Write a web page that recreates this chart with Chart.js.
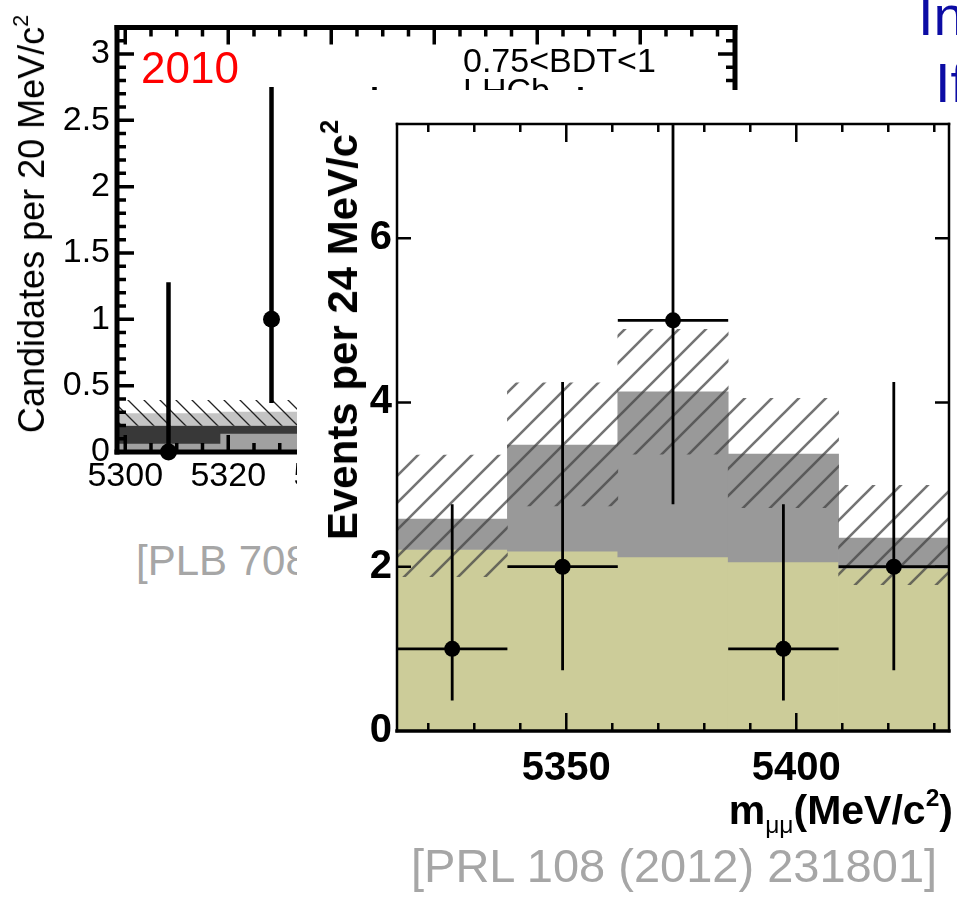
<!DOCTYPE html>
<html>
<head>
<meta charset="utf-8">
<script src="https://cdn.jsdelivr.net/npm/chart.js@4.4.0/dist/chart.umd.min.js"></script>
<style>
body { margin: 0; width: 957px; height: 898px; overflow: hidden; background: #fff; position: relative; font-family: "Liberation Sans", Arial, sans-serif; }
.t { position: absolute; white-space: nowrap; line-height: 1; }
.rot { transform: translate(-50%, -50%) rotate(-90deg); }
sup { font-size: 0.6em; vertical-align: 0.75em; line-height: 0; }
#backLayer { position: absolute; left: 0; top: 0; width: 760px; height: 620px; }
#frontLayer { position: absolute; left: 297px; top: 90px; width: 660px; height: 808px; background: #fff; overflow: hidden; }
canvas { position: absolute; left: 0; top: 0; }
.blue { color: #0c0ca4; font-size: 56px; z-index: 5; }
</style>
</head>
<body>

<div id="backLayer">
  <canvas id="backChart" width="760" height="500"></canvas>
  <div class="t rot" style="left:32px;top:224px;font-size:36px">Candidates per 20 MeV/c<sup>2</sup></div>
  <div class="t" style="left:141px;top:46px;font-size:44px;color:#ff0000">2010</div>
  <div class="t" style="left:463px;top:43px;font-size:34px">0.75&lt;BDT&lt;1</div>
  <div class="t" style="left:463px;top:73px;font-size:34px">LHCb</div>
  <div class="t" style="left:136px;top:540px;font-size:42px;color:#a6a6a6">[PLB 708 (2012) 55]</div>
</div>

<div id="frontLayer">
  <canvas id="frontChart" width="660" height="808"></canvas>
  <div class="t rot" style="left:46px;top:240px;font-size:42px;font-weight:bold">Events per 24 MeV/c<sup>2</sup></div>
  <div class="t" style="right:4px;top:700px;font-size:41px;font-weight:bold">m<span style="font-size:0.6em;font-weight:normal;vertical-align:-0.35em">&mu;&mu;</span>(MeV/c<sup>2</sup>)</div>
  <div class="t" style="left:114px;top:752px;font-size:47px;color:#a6a6a6">[PRL 108 (2012) 231801]</div>
</div>

<div class="t blue" style="left:918px;top:-12px">In</div>
<div class="t blue" style="left:935px;top:55px">If</div>

<script>
// ---- 2010 plot (behind) ----
const backCenters = [5308.4, 5328.4, 5348.4, 5368.4, 5388.4, 5408.4]
const backCounts = [0, 1, 1, 0, 1, 0]
const backErrLo = [0, 0.37, 0.37, 0, 0.37, 0]
const backErrHi = [1.28, 2.75, 2.75, 1.28, 2.75, 1.28]
const backMidTop = [0.065, 0.14, 0.14, 0.14, 0.14, 0.14]
const backDarkTop = [0.2, 0.2, 0.2, 0.2, 0.2, 0.2]
const backLightTop = [0.29, 0.3, 0.3, 0.3, 0.3, 0.3]
const backHatchLo = [0.2, 0.2, 0.2, 0.2, 0.2, 0.2]
const backHatchHi = [0.39, 0.39, 0.39, 0.39, 0.39, 0.39]
const backXTicks = [5300, 5320, 5340, 5360, 5380, 5400]
const backYTicks = [0, 0.5, 1, 1.5, 2, 2.5, 3]

// ---- 2011 plot (front) ----
const frontCenters = [5325.2, 5349.2, 5373.2, 5397.2, 5421.2]
const frontCounts = [1, 2, 5, 1, 2]
const frontErrLo = [0.37, 0.74, 2.76, 0.37, 0.74]
const frontErrHi = [2.76, 4.25, 7.6, 2.76, 4.25]
const frontBkgTop = [2.21, 2.19, 2.12, 2.06, 1.98]
const frontTotal = [2.58, 3.48, 4.13, 3.37, 2.35]
const frontBandLo = [1.88, 2.74, 3.37, 2.72, 1.78]
const frontBandHi = [3.36, 4.24, 4.89, 4.05, 2.99]
const frontXTicks = [5350, 5400]
const frontYTicks = [0, 2, 4, 6]

Chart.defaults.font.family = '"Liberation Sans", Arial, sans-serif'
Chart.defaults.color = '#000'

function hatch(size, color, width, dir) {
    let c = document.createElement('canvas')
    c.width = size
    c.height = size
    let g = c.getContext('2d')
    g.strokeStyle = color
    g.lineWidth = width
    g.beginPath()
    if (dir > 0) {
        g.moveTo(0, size); g.lineTo(size, 0)
        g.moveTo(-size / 2, size / 2); g.lineTo(size / 2, -size / 2)
        g.moveTo(size / 2, size * 1.5); g.lineTo(size * 1.5, size / 2)
    } else {
        g.moveTo(0, 0); g.lineTo(size, size)
        g.moveTo(-size / 2, size / 2); g.lineTo(size / 2, size * 1.5)
        g.moveTo(size / 2, -size / 2); g.lineTo(size * 1.5, size / 2)
    }
    g.stroke()
    return g.createPattern(c, 'repeat')
}

function band(xs, lo, hi) {
    return xs.map((x, i) => ({x: x, y: [lo ? lo[i] : 0, hi[i]]}))
}

function bars(data, color, order) {
    return {
        type: 'bar', data: data, backgroundColor: color, order: order,
        barPercentage: 1, categoryPercentage: 1, grouped: false, borderWidth: 0
    }
}

// vertical (and optional horizontal) error bars, drawn through the scales
const errorBars = {
    id: 'errorBars',
    afterDatasetsDraw(chart, args, o) {
        const {ctx, chartArea: a, scales: {x, y}} = chart
        ctx.save()
        if (o.clip) {
            ctx.beginPath()
            ctx.rect(a.left, a.top, a.right - a.left, a.bottom - a.top)
            ctx.clip()
        }
        ctx.strokeStyle = '#000'
        ctx.lineWidth = o.lineWidth
        ctx.beginPath()
        chart.data.datasets.forEach(ds => {
            if (!ds.errHi) return
            ds.data.forEach((p, i) => {
                let px = x.getPixelForValue(p.x)
                ctx.moveTo(px, y.getPixelForValue(ds.errLo[i]))
                ctx.lineTo(px, y.getPixelForValue(ds.errHi[i]))
                if (o.xHalf) {
                    let py = y.getPixelForValue(p.y)
                    ctx.moveTo(x.getPixelForValue(p.x - o.xHalf), py)
                    ctx.lineTo(x.getPixelForValue(p.x + o.xHalf), py)
                }
            })
        })
        ctx.stroke()
        ctx.restore()
    }
}

// ROOT style frame with ticks pointing inwards
const rootFrame = {
    id: 'rootFrame',
    afterDraw(chart, args, o) {
        const {ctx, chartArea: a, scales: {x, y}} = chart
        ctx.save()
        ctx.strokeStyle = '#000'
        ctx.lineWidth = o.tickWidth

        // x ticks, bottom and top
        ctx.beginPath()
        const xTick = (v, len) => {
            let px = x.getPixelForValue(v)
            if (px < a.left + 2 || px > a.right - 2) return
            ctx.moveTo(px, a.bottom); ctx.lineTo(px, a.bottom - len)
            ctx.moveTo(px, a.top); ctx.lineTo(px, a.top + len)
        }
        if (o.xMinor) for (let k = Math.ceil(x.min / o.xMinor); k * o.xMinor <= x.max; k++) xTick(k * o.xMinor, o.minorLen)
        o.xMajor.forEach(v => xTick(v, o.majorLen))
        ctx.stroke()

        // y ticks, left and right
        ctx.beginPath()
        const yTick = (v, len) => {
            let py = y.getPixelForValue(v)
            if (py < a.top + 2 || py > a.bottom - 2) return
            ctx.moveTo(a.left, py); ctx.lineTo(a.left + len, py)
            ctx.moveTo(a.right, py); ctx.lineTo(a.right - len, py)
        }
        if (o.yMinor) for (let k = 1; k * o.yMinor <= y.max; k++) yTick(k * o.yMinor, o.minorLen)
        o.yMajor.forEach(v => yTick(v, o.yMajorLen || o.majorLen))
        ctx.stroke()

        const side = (w, x1, y1, x2, y2) => {
            ctx.lineWidth = w
            ctx.beginPath(); ctx.moveTo(x1, y1); ctx.lineTo(x2, y2); ctx.stroke()
        }
        ctx.lineCap = 'square'
        side(o.frame[0], a.left, a.top, a.right, a.top)
        side(o.frame[1], a.right, a.top, a.right, a.bottom)
        side(o.frame[2], a.left, a.bottom, a.right, a.bottom)
        side(o.frame[3], a.left, a.top, a.left, a.bottom)
        ctx.restore()
    }
}

function axisOpts(min, max, ticks, size, bold, padding, fitKey, fitVal) {
    return {
        type: 'linear', min: min, max: max, offset: false,
        grid: {display: false, drawTicks: false},
        border: {display: false},
        afterBuildTicks: s => { s.ticks = ticks.map(v => ({value: v})) },
        afterFit: s => { s[fitKey] = fitVal },
        ticks: {
            font: {size: size, weight: bold ? 'bold' : 'normal'}, padding: padding,
            maxRotation: 0, autoSkip: false, callback: v => String(v)
        }
    }
}

new Chart(document.getElementById('backChart'), {
    type: 'bar',
    data: {
        datasets: [
            {type: 'scatter', data: backCenters.map((x, i) => ({x: x, y: backCounts[i]})),
             errLo: backErrLo, errHi: backErrHi, pointRadius: 8.5, pointBorderWidth: 0,
             backgroundColor: '#000', showLine: false, clip: false, order: 0},
            bars(band(backCenters, backHatchLo, backHatchHi), hatch(16, '#222', 1.3, -1), 1),
            bars(band(backCenters, backDarkTop, backLightTop), '#c4c4c4', 2),
            bars(band(backCenters, backMidTop, backDarkTop), '#383838', 3),
            bars(band(backCenters, null, backMidTop), '#a0a0a0', 4)
        ]
    },
    options: {
        responsive: false, animation: false, events: [],
        layout: {padding: {top: 13, right: 25, left: 0, bottom: 0}},
        scales: {
            x: axisOpts(5298.4, 5418.4, backXTicks, 34, false, 4, 'height', 48),
            y: axisOpts(0, 3.2, backYTicks, 34, false, 7, 'width', 117)
        },
        plugins: {
            legend: {display: false}, tooltip: {enabled: false},
            errorBars: {lineWidth: 4.5, xHalf: 0, clip: false},
            rootFrame: {frame: [5, 5, 5, 5], tickWidth: 3.5, xMinor: 5, yMinor: 0.1,
                        xMajor: backXTicks, yMajor: backYTicks, minorLen: 9, majorLen: 17}
        }
    },
    plugins: [errorBars, rootFrame]
})

new Chart(document.getElementById('frontChart'), {
    type: 'bar',
    data: {
        datasets: [
            {type: 'scatter', data: frontCenters.map((x, i) => ({x: x, y: frontCounts[i]})),
             errLo: frontErrLo, errHi: frontErrHi, pointRadius: 8, pointBorderWidth: 0,
             backgroundColor: '#000', showLine: false, order: 0},
            bars(band(frontCenters, frontBandLo, frontBandHi), hatch(27, 'rgba(70,70,70,0.75)', 2.6, 1), 1),
            bars(band(frontCenters, frontBkgTop, frontTotal), '#999999', 2),
            bars(band(frontCenters, null, frontBkgTop), '#cccc99', 3)
        ]
    },
    options: {
        responsive: false, animation: false, events: [],
        layout: {padding: {top: 34, right: 2, left: 0, bottom: 0}},
        scales: {
            x: axisOpts(5313.2, 5433.2, frontXTicks, 40, true, 14, 'height', 167),
            y: axisOpts(0, 7.39, frontYTicks, 40, true, 5, 'width', 100)
        },
        plugins: {
            legend: {display: false}, tooltip: {enabled: false},
            errorBars: {lineWidth: 2.8, xHalf: 12, clip: true},
            rootFrame: {frame: [2.5, 2.5, 3.5, 2.5], tickWidth: 2.5, xMinor: 10, yMinor: 0,
                        xMajor: frontXTicks, yMajor: frontYTicks, minorLen: 8, majorLen: 18, yMajorLen: 14}
        }
    },
    plugins: [errorBars, rootFrame]
})
</script>
</body>
</html>
